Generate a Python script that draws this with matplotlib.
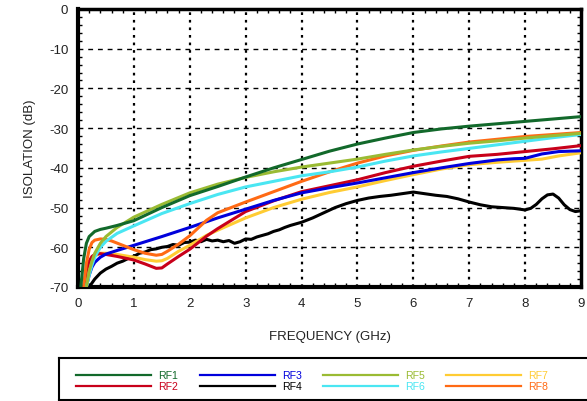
import matplotlib
matplotlib.use("Agg")
import matplotlib.pyplot as plt
from matplotlib.ticker import MultipleLocator

plt.rcParams['font.family'] = ['Liberation Sans', 'DejaVu Sans']
plt.rcParams['axes.unicode_minus'] = False

# ---- data ----
f_rf1 = [0.05,0.1,0.15,0.2,0.3,0.4,0.5,0.7,1.0,1.5,2.0,2.5,3.0,3.5,4.0,4.5,5.0,5.5,6.0,6.5,7.0,7.5,8.0,8.5,9.0]
v_rf1 = [-70,-63,-59,-57.3,-56,-55.5,-55.2,-54.5,-53.3,-50,-47,-44.7,-42.3,-40,-37.9,-35.8,-34,-32.5,-31.1,-30.2,-29.5,-28.9,-28.3,-27.7,-27.1]

f_rf2 = [0.1,0.15,0.2,0.25,0.3,0.4,0.5,0.7,1.0,1.2,1.4,1.5,1.6,1.8,2.0,2.3,2.5,3.0,3.5,4.0,4.5,5.0,5.5,6.0,6.5,7.0,7.5,8.0,8.5,9.0]
v_rf2 = [-70,-66,-63.5,-62.3,-61.8,-61.6,-61.8,-62.3,-63.2,-64.2,-65.3,-65.2,-64.2,-62.3,-60.5,-57.2,-55.3,-51,-48.3,-46,-44.5,-43,-41.2,-39.6,-38.3,-37.1,-36.6,-35.9,-35.2,-34.4]

f_rf3 = [0.15,0.2,0.25,0.3,0.4,0.5,0.7,1.0,1.5,2.0,2.5,3.0,3.5,4.0,4.5,5.0,5.5,6.0,6.5,7.0,7.5,7.8,8.0,8.3,8.6,9.0]
v_rf3 = [-70,-67,-65,-63.8,-62.5,-61.7,-60.8,-59.5,-57.3,-55,-52.6,-50.4,-48.2,-46.3,-45,-43.8,-42.5,-41.2,-40,-38.9,-38,-37.7,-37.6,-36.5,-35.9,-35.7]

f_rf4 = [0.2,0.3,0.4,0.5,0.6,0.7,0.8,0.9,1.0,1.1,1.2,1.3,1.4,1.5,1.6,1.7,1.8,1.9,2.0,2.1,2.2,2.3,2.4,2.5,2.6,2.7,2.8,2.9,3.0,3.1,3.2,3.3,3.4,3.5,3.6,3.7,3.8,3.9,4.0,4.2,4.4,4.6,4.8,5.0,5.2,5.4,5.6,5.8,6.0,6.2,6.4,6.6,6.8,7.0,7.2,7.4,7.6,7.8,8.0,8.1,8.2,8.3,8.4,8.5,8.6,8.7,8.8,8.9,9.0]
v_rf4 = [-70,-68,-66.5,-65.5,-64.8,-64,-63.5,-62.8,-62.3,-61.5,-61.2,-60.6,-60.4,-60.0,-59.8,-59.3,-59.5,-58.8,-58.7,-58.2,-58.6,-58.0,-58.4,-58.2,-58.6,-58.3,-59.0,-58.6,-57.9,-58.0,-57.4,-57.0,-56.6,-56.0,-55.6,-55.0,-54.5,-54.1,-53.7,-52.6,-51.3,-50.0,-49.0,-48.2,-47.6,-47.2,-46.9,-46.5,-46.1,-46.5,-46.9,-47.2,-47.8,-48.6,-49.3,-49.8,-50.0,-50.2,-50.6,-50.2,-49.2,-47.8,-46.8,-46.6,-47.6,-49.3,-50.5,-51.0,-50.8]

f_rf5 = [0.15,0.2,0.25,0.3,0.4,0.5,0.7,1.0,1.5,2.0,2.5,3.0,3.5,4.0,4.5,5.0,5.5,6.0,6.5,7.0,7.5,8.0,8.5,9.0]
v_rf5 = [-70,-66,-63.5,-61.5,-59,-57.3,-55,-52.4,-49.2,-46.3,-44.1,-42.4,-41,-39.8,-38.8,-37.8,-36.6,-35.5,-34.6,-33.8,-33.2,-32.5,-31.9,-31.3]

f_rf6 = [0.15,0.2,0.25,0.3,0.4,0.5,0.7,1.0,1.5,2.0,2.5,3.0,3.5,4.0,4.5,5.0,5.5,6.0,6.5,7.0,7.5,8.0,8.5,9.0]
v_rf6 = [-70,-67,-64.5,-62.5,-60,-58.5,-56.5,-54.6,-51.5,-49,-46.7,-44.8,-43.4,-42,-41,-39.8,-38.3,-37,-36,-35.1,-34.2,-33.3,-32.4,-31.6]

f_rf7 = [0.15,0.2,0.25,0.3,0.4,0.5,0.7,1.0,1.2,1.4,1.5,1.6,1.8,2.0,2.3,2.5,3.0,3.5,4.0,4.5,5.0,5.5,6.0,6.5,7.0,7.5,8.0,8.3,8.6,9.0]
v_rf7 = [-70,-66,-63.5,-62.2,-61.5,-61.5,-61.8,-62.5,-63.1,-63.5,-63.4,-62.8,-61,-59.5,-57,-55.7,-52.6,-50,-47.9,-46.2,-44.8,-43.2,-41.7,-40.3,-39.2,-38.6,-38.1,-37.8,-37,-36.2]

f_rf8 = [0.1,0.15,0.2,0.25,0.3,0.4,0.5,0.6,0.8,1.0,1.2,1.4,1.5,1.6,1.8,2.0,2.3,2.5,3.0,3.5,4.0,4.5,5.0,5.5,6.0,6.5,7.0,7.5,8.0,8.5,9.0]
v_rf8 = [-70,-64,-60.5,-58.8,-58.2,-57.9,-58,-58.4,-59.5,-60.6,-61.5,-62,-61.8,-61,-59.2,-57.1,-53.2,-51.3,-48.6,-46,-43.4,-41,-38.8,-37,-35.6,-34.5,-33.5,-32.8,-32.1,-31.6,-31.1]

labels = ["RF1", "RF2", "RF3", "RF4", "RF5", "RF6", "RF7", "RF8"]
colors = ["#12692b", "#c8001a", "#0000dc", "#000000", "#9abb33", "#4ae6f2", "#ffcc33", "#ff6a14"]
series = [(f_rf1, v_rf1), (f_rf2, v_rf2), (f_rf3, v_rf3), (f_rf4, v_rf4),
          (f_rf5, v_rf5), (f_rf6, v_rf6), (f_rf7, v_rf7), (f_rf8, v_rf8)]

x_ticks = list(range(0, 10))
y_ticks = list(range(-70, 1, 10))

# ---- figure ----
W, H = 587, 402
fig = plt.figure(figsize=(W/100, H/100), dpi=100)
ax = fig.add_axes([78/W, 1-288/H, (581-78)/W, (288-10)/H])

draw_order = [3, 6, 1, 2, 7, 5, 4, 0]
for i in draw_order:
    fx, fv = series[i]
    ax.plot(fx, fv, color=colors[i], lw=2.2, solid_capstyle='butt', zorder=3)

ax.set_xlim(0, 9)
ax.set_ylim(-70, 0)
ax.set_xticks(x_ticks)
ax.set_yticks(y_ticks)
ax.xaxis.set_minor_locator(MultipleLocator(0.2))
ax.yaxis.set_minor_locator(MultipleLocator(2))
ax.tick_params(which='both', direction='in', top=True, right=True, colors='black',
               labelsize=9.5, labelcolor='#222222')
ax.tick_params(which='major', length=0, pad=7)
ax.tick_params(which='minor', length=3, width=1)
for sp in ax.spines.values():
    sp.set_linewidth(2.5)
ax.spines['left'].set_linewidth(3)
ax.spines['bottom'].set_linewidth(3)

for xv in x_ticks[1:-1]:
    ax.axvline(xv, color='black', lw=1.6, ls=(0, (1.2, 2.2)), zorder=1)
for yv in y_ticks[1:-1]:
    ax.axhline(yv, color='black', lw=1.0, ls=(0, (3.5, 3.5)), zorder=1)

ax.set_xlabel("FREQUENCY (GHz)", fontsize=9.5, color='#222222', labelpad=15)
ax.set_ylabel("ISOLATION (dB)", fontsize=9.5, color='#222222', labelpad=9)

# ---- legend box ----
lax = fig.add_axes([59/W, 1-401/H, (587-59)/W, (401-359)/H])
lax.set_xlim(59, 587)
lax.set_ylim(401, 359)
lax.set_xticks([])
lax.set_yticks([])
for sp in lax.spines.values():
    sp.set_linewidth(1.5)
lax.spines['right'].set_visible(False)

col_x0 = [76, 200, 323, 446]
row_y = [376.2, 387.0]
for i, lab in enumerate(labels):
    c, r = i // 2, i % 2
    x0 = col_x0[c]
    lax.plot([x0, x0 + 75], [row_y[r], row_y[r]], color=colors[i], lw=1.6)
    lax.text(x0 + 82, row_y[r], lab, color=colors[i], fontsize=7.6,
             va='center', ha='left')

fig.savefig("out.png", dpi=100)
